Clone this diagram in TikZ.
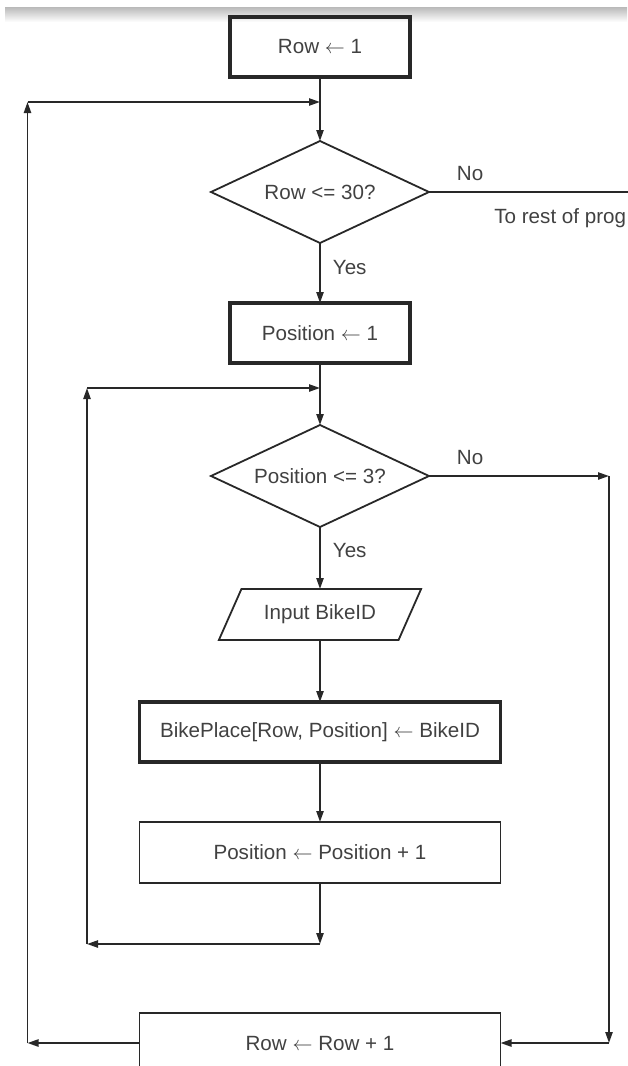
\documentclass[tikz,border=0pt]{standalone}
\usepackage{fontspec}
\setmainfont{Liberation Sans}
\usepackage{tikz}
\usetikzlibrary{positioning, shapes.geometric, arrows.meta}
\definecolor{linegray}{RGB}{40,40,40}
\definecolor{textgray}{RGB}{65,65,65}
\newcommand{\assignto}{\ $\leftarrow$\ }

\begin{document}
\begin{tikzpicture}[x=0.5pt, y=-0.5pt, font=\fontsize{10.3}{12}\selectfont, color=linegray, line width=0.9pt,
  >={Triangle[length=5.5pt,width=3.6pt]},
  procbox/.style={rectangle, draw, minimum height=30pt, inner sep=0pt, outer sep=0pt, align=center, text=textgray},
  thickbox/.style={procbox, line width=1.6pt},
  decision/.style={diamond, draw, aspect=2.2, minimum width=109pt, minimum height=51pt, inner sep=0pt, outer sep=0pt, text=textgray},
  iobox/.style={trapezium, trapezium left angle=50, trapezium right angle=130, trapezium stretches=true, draw, minimum width=101.5pt, minimum height=25.5pt, inner sep=0pt, outer sep=0pt, text=textgray},
  lbl/.style={inner sep=1pt, text=textgray}]
\useasboundingbox (0,0) rectangle (627,1066);
\shade [top color=gray!55, bottom color=white, draw=none] (5,7) rectangle (627,22);
%


% ROW INITIALISATION
\node [thickbox, minimum width=90pt] (row_init) at (320,47) {Row\assignto1};
% ROW TEST
\node [decision, below=32pt of row_init] (row_test) {Row <= 30?};
% POSITION INITIALISATION
\node [thickbox, minimum width=90pt, below=30pt of row_test] (pos_init) {Position\assignto1};
% POSITION TEST
\node [decision, below=31pt of pos_init] (pos_test) {Position <= 3?};
% INPUT
\node [iobox, below=31pt of pos_test] (input) {Input BikeID};
% STORE
\node [thickbox, minimum width=180.5pt, below=31pt of input] (place) {BikePlace[Row, Position]\assignto BikeID};
% POSITION INCREMENT
\node [procbox, minimum width=180.5pt, minimum height=30.5pt, below=30pt of place] (pos_inc) {Position\assignto Position + 1};
% ROW INCREMENT
\node [procbox, minimum width=180.5pt, below=65pt of pos_inc] (row_inc) {Row\assignto Row + 1};

% JOINS
\coordinate [below=12.5pt of row_init.south] (join_row);
\coordinate [below=12.5pt of pos_init.south] (join_pos);

% LABELS
\node [lbl, above right=4.2pt and 12.5pt of row_test.east] (no_row) {No};
\node [lbl, above right=4.2pt and 12.5pt of pos_test.east] (no_pos) {No};



\draw [->] (row_init.south) -- (row_test.north);
\draw [->] (row_test.south) -- node [lbl, right=5pt, pos=0.41] (yes_row) {Yes} (pos_init.north);
\draw (row_test.east) -- ++(100pt,0) coordinate (exit);
\node [lbl, below left=7pt and 0pt of exit] (rest) {To rest of prog};
\draw [->] (pos_init.south) -- (pos_test.north);
\draw [->] (pos_test.south) -- node [lbl, right=5pt, pos=0.38] (yes_pos) {Yes} (input.north);
\draw [->] (input.south) -- (place.north);
\draw [->] (place.south) -- (pos_inc.north);
% inner loop
\draw [->] (pos_inc.south) -- ++(0,-30.5pt) coordinate (loop_in);
\draw [->] (loop_in) -- ++(-116.5pt,0) coordinate (loop_in_left);
\draw [->] (loop_in_left) -- (loop_in_left |- join_pos);
\draw [->] (loop_in_left |- join_pos) -- (join_pos);
% skip to next row
\draw [->] (pos_test.east) -- ++(90pt,0) coordinate (skip);
\draw [->] (skip) -- (skip |- row_inc.east);
\draw [->] (skip |- row_inc.east) -- (row_inc.east);
% outer loop
\draw [->] (row_inc.west) -- ++(-56pt,0) coordinate (loop_out);
\draw [->] (loop_out) -- (loop_out |- join_row);
\draw [->] (loop_out |- join_row) -- (join_row);
\end{tikzpicture}
\end{document}
